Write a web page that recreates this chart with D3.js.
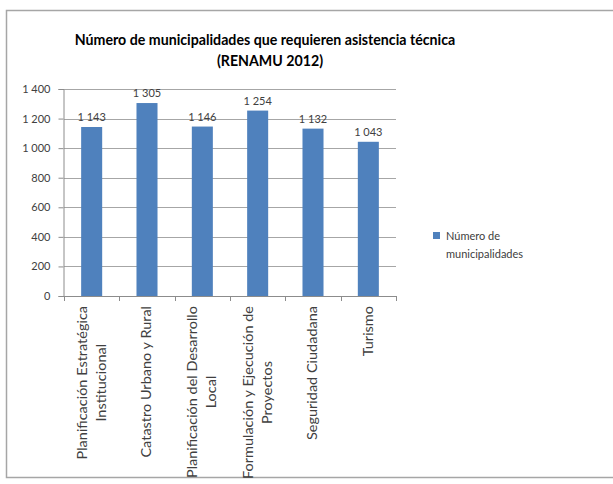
<!DOCTYPE html>
<html><head><meta charset="utf-8">
<script src="https://cdn.jsdelivr.net/npm/d3@7"></script>
<style>body{margin:0;background:#fff;} svg{display:block;} text{font-family:Lato, "Open Sans", sans-serif;}</style>
</head><body>
<svg id="c" width="613" height="484"></svg>
<script>
const categories = [
  ["Planificación Estratégica", "Institucional"],
  ["Catastro Urbano y Rural"],
  ["Planificación del Desarrollo", "Local"],
  ["Formulación y Ejecución de", "Proyectos"],
  ["Seguridad Ciudadana"],
  ["Turismo"]
];
const values = [1143, 1305, 1146, 1254, 1132, 1043];
const yTicks = [0, 200, 400, 600, 800, 1000, 1200, 1400];
const seriesName = ["Número de", "municipalidades"];
const titleLines = ["Número de municipalidades que requieren asistencia técnica", "(RENAMU 2012)"];

const svg = d3.select("#c");
const loc = d3.formatLocale({decimal: ",", thousands: " ", grouping: [3], currency: ["", ""]});
const fmt = loc.format(",d");
const textCol = "#404040";
const barCol = "#4F81BD";

// frame
svg.append("rect").attr("x", 6.5).attr("y", 10.5).attr("width", 640).attr("height", 467)
  .attr("fill", "#fff").attr("stroke", "#A6A6A6").attr("stroke-width", 1.5);

const x0 = 64, x1 = 396, yB = 296, yT = 89;
const x = d3.scaleBand().domain(d3.range(categories.length)).range([x0, x1]).paddingInner(0.62).paddingOuter(0.31);
const y = d3.scaleLinear().domain([0, 1400]).range([yB, yT]);

// gridlines
svg.append("g").selectAll("line").data(yTicks.filter(d => d > 0)).join("line")
  .attr("x1", x0).attr("x2", x1).attr("y1", d => Math.round(y(d)) + 0.5).attr("y2", d => Math.round(y(d)) + 0.5)
  .attr("stroke", "#A6A6A6").attr("stroke-width", 1);

// y axis
const ya = svg.append("g").attr("transform", `translate(${x0 - 0.5},0)`)
  .call(d3.axisLeft(y).tickValues(yTicks).tickFormat(fmt).tickSize(5).tickPadding(8));
ya.selectAll("path,line").attr("stroke", "#8C8C8C");
ya.selectAll("text").attr("font-size", 11).attr("fill", textCol).style("font-family", "Lato, sans-serif");

// bars
svg.append("g").selectAll("rect").data(values).join("rect")
  .attr("x", (d, i) => x(i)).attr("width", x.bandwidth())
  .attr("y", d => y(d)).attr("height", d => y(0) - y(d)).attr("fill", barCol);

// x axis line & ticks at boundaries
const step = x.step();
svg.append("line").attr("x1", x0).attr("x2", x1).attr("y1", yB + 0.5).attr("y2", yB + 0.5).attr("stroke", "#8C8C8C");
svg.append("g").selectAll("line").data(d3.range(categories.length + 1)).join("line")
  .attr("x1", i => Math.round(x0 + i * step) + 0.5).attr("x2", i => Math.round(x0 + i * step) + 0.5)
  .attr("y1", yB).attr("y2", yB + 5).attr("stroke", "#8C8C8C");

// data labels
svg.append("g").selectAll("text").data(values).join("text")
  .attr("x", (d, i) => x(i) + x.bandwidth() / 2).attr("y", d => y(d) - 6)
  .attr("text-anchor", "middle").attr("font-size", 11).attr("fill", textCol).text(d => fmt(d));

// x labels rotated
const lineH = 19;
categories.forEach((lines, i) => {
  const cx = x(i) + x.bandwidth() / 2;
  const g = svg.append("g").attr("transform", `translate(${cx},${yB + 10}) rotate(-90) scale(1.16,1)`);
  const ts = lines.map((l, j) => g.append("text").attr("font-size", 12.5).attr("fill", textCol)
    .attr("text-anchor", "middle").attr("dy", "0.35em")
    .attr("y", (j - (lines.length - 1) / 2) * lineH).text(l));
  const maxW = d3.max(ts, t => t.node().getComputedTextLength());
  ts.forEach(t => t.attr("x", -maxW / 2));
});

// title
svg.append("g").selectAll("text").data(titleLines).join("text")
  .attr("x", (d, i) => i === 0 ? 265 : 270).attr("y", (d, i) => 45 + i * 21)
  .attr("text-anchor", "middle").attr("font-size", 14.2).attr("font-weight", "bold").attr("fill", "#000")
  .text(d => d);

// legend
svg.append("rect").attr("x", 433).attr("y", 232).attr("width", 7).attr("height", 7).attr("fill", barCol);
svg.append("g").selectAll("text").data(seriesName).join("text")
  .attr("x", 446).attr("y", (d, i) => 240 + i * 18).attr("font-size", 11).attr("fill", textCol).text(d => d);
</script>
</body></html>
